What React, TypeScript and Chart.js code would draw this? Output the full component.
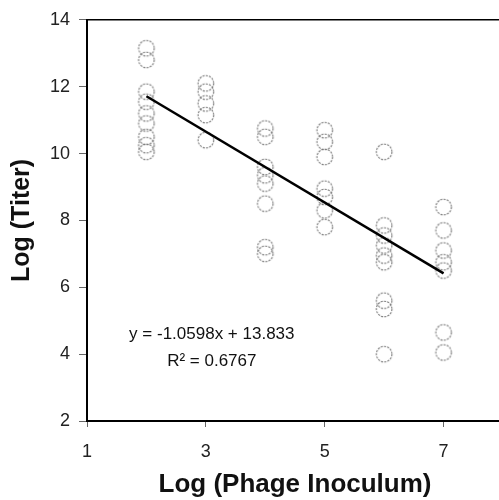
import React, { useEffect, useRef } from "react";
import { Chart, registerables } from "chart.js";

Chart.register(...registerables);

// Log (Phage Inoculum) groups
const inoculum = [2, 3, 4, 5, 6, 7];
// Log (Titer) values read per group
const titerAt2 = [13.15, 12.8, 11.85, 11.55, 11.2, 10.9, 10.5, 10.25, 10.05];
const titerAt3 = [12.1, 11.85, 11.5, 11.15, 10.4];
const titerAt4 = [10.75, 10.5, 9.6, 9.35, 9.1, 8.5, 7.2, 7.0];
const titerAt5 = [10.7, 10.35, 9.9, 8.95, 8.7, 8.3, 7.8];
const titerAt6 = [10.05, 7.85, 7.55, 7.25, 6.95, 6.75, 5.6, 5.35, 4.0];
const titerAt7 = [8.4, 7.7, 7.1, 6.75, 6.5, 4.65, 4.05];
const titerGroups = [titerAt2, titerAt3, titerAt4, titerAt5, titerAt6, titerAt7];

// regression trend line end points
const trendX = [2, 7];
const trendY = [11.714, 6.414];

const xTickValues = [1, 3, 5, 7];
const equationText = "y = -1.0598x + 13.833";
const r2Text = "R\u00B2 = 0.6767";

const FONT = "'Liberation Sans', Arial, Helvetica, sans-serif";

function makeMarker(): HTMLCanvasElement {
  const c = document.createElement("canvas");
  c.width = 20;
  c.height = 20;
  const g = c.getContext("2d");
  if (g) {
    g.strokeStyle = "#7a7a7a";
    g.lineWidth = 1.1;
    g.setLineDash([2.2, 1.1]);
    g.beginPath();
    g.arc(10, 10, 7.8, 0, Math.PI * 2);
    g.stroke();
  }
  return c;
}

export default function App() {
  const ref = useRef<HTMLCanvasElement | null>(null);

  useEffect(() => {
    const canvas = ref.current;
    if (!canvas) return;

    const points: { x: number; y: number }[] = [];
    inoculum.forEach((x, i) => {
      titerGroups[i].forEach((y) => points.push({ x, y }));
    });
    const trend = trendX.map((x, i) => ({ x, y: trendY[i] }));
    const marker = makeMarker();

    const extras = {
      id: "extras",
      afterDraw(chart: any) {
        const { ctx, chartArea, scales } = chart;
        ctx.save();
        ctx.strokeStyle = "#000";
        ctx.lineWidth = 1.5;
        ctx.beginPath();
        ctx.moveTo(chartArea.left, chartArea.top);
        ctx.lineTo(chartArea.right, chartArea.top);
        ctx.stroke();
        ctx.fillStyle = "#111";
        ctx.font = `17px ${FONT}`;
        ctx.textAlign = "center";
        ctx.textBaseline = "middle";
        const cx = scales.x.getPixelForValue(3.1);
        ctx.fillText(equationText, cx, scales.y.getPixelForValue(4.6));
        ctx.fillText(r2Text, cx, scales.y.getPixelForValue(3.8));
        ctx.restore();
      },
    };

    const chart = new Chart(canvas, {
      type: "scatter",
      data: {
        datasets: [
          {
            type: "line",
            data: trend,
            borderColor: "#000",
            borderWidth: 2.5,
            pointRadius: 0,
            order: 0,
          } as any,
          {
            data: points,
            pointStyle: marker,
            pointRadius: 8,
            order: 1,
          },
        ],
      },
      options: {
        responsive: false,
        animation: false,
        layout: { padding: { left: 0, top: 19, right: 8, bottom: 0 } },
        plugins: { legend: { display: false }, tooltip: { enabled: false } },
        scales: {
          x: {
            type: "linear",
            min: 1,
            max: 8,
            afterFit(scale: any) {
              scale.height = 79;
            },
            afterBuildTicks(scale: any) {
              scale.ticks = xTickValues.map((v) => ({ value: v }));
            },
            grid: {
              display: true,
              drawOnChartArea: false,
              drawTicks: true,
              tickLength: 6,
              tickColor: "#666",
            },
            border: { display: true, color: "#000", width: 2 },
            ticks: {
              color: "#222",
              font: { family: FONT, size: 18 },
              padding: 14,
              maxRotation: 0,
              autoSkip: false,
            },
            title: {
              display: true,
              text: "Log (Phage Inoculum)",
              color: "#111",
              font: { family: FONT, size: 26, weight: "bold" },
              padding: { top: 0, bottom: 0 },
            },
          },
          y: {
            type: "linear",
            min: 2,
            max: 14,
            afterFit(scale: any) {
              scale.width = 87;
            },
            grid: {
              display: true,
              drawOnChartArea: false,
              drawTicks: true,
              tickLength: 8,
              tickColor: "#666",
            },
            border: { display: true, color: "#000", width: 2 },
            ticks: {
              stepSize: 2,
              color: "#222",
              font: { family: FONT, size: 18 },
              padding: 9,
            },
            title: {
              display: true,
              text: "Log (Titer)",
              color: "#111",
              font: { family: FONT, size: 25, weight: "bold" },
              padding: { top: 7, bottom: 0 },
            },
          },
        },
      },
      plugins: [extras],
    });

    return () => chart.destroy();
  }, []);

  return (
    <div
      style={{
        position: "fixed",
        left: 0,
        top: 0,
        width: 499,
        height: 500,
        overflow: "hidden",
        background: "#fff",
      }}
    >
      <canvas ref={ref} width={512} height={500} style={{ width: 512, height: 500, display: "block" }} />
    </div>
  );
}
